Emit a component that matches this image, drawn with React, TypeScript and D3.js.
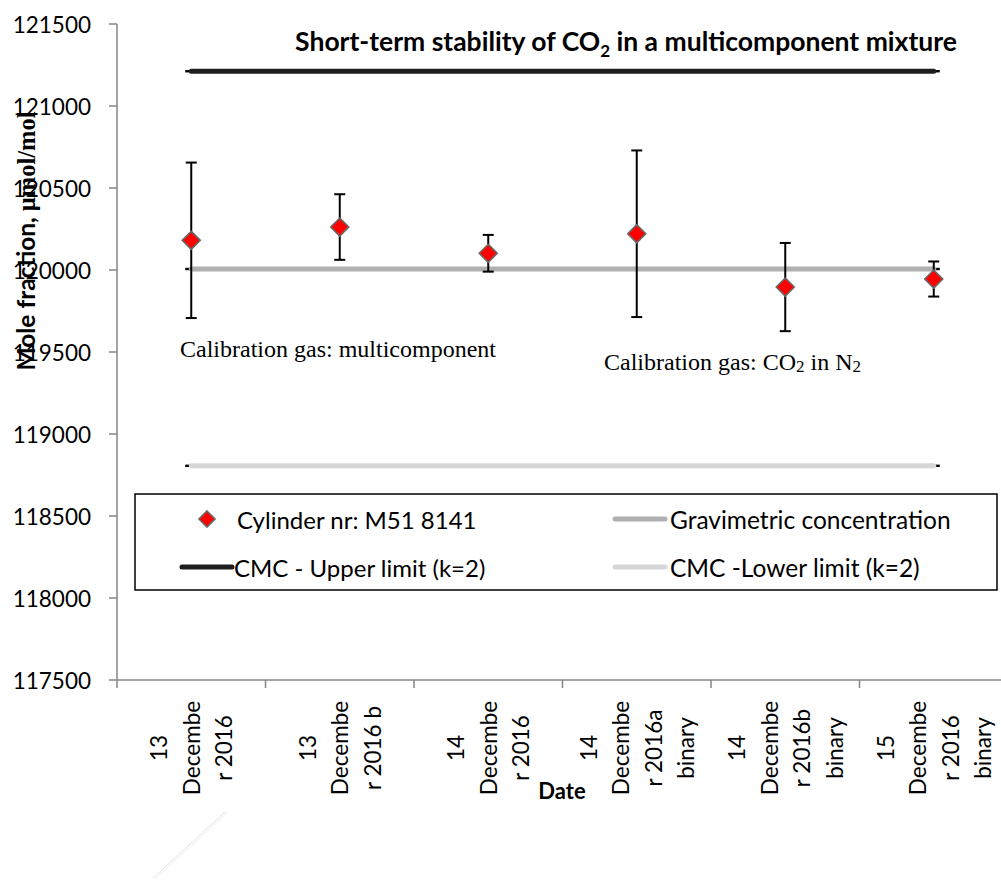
import * as d3 from 'd3'

// categories shown on the x axis (each entry = the wrapped lines of one label)
const categories = ['13 Dec 2016', '13 Dec 2016 b', '14 Dec 2016', '14 Dec 2016a binary', '14 Dec 2016b binary', '15 Dec 2016 binary']
const tickLines = [
  ['13', 'Decembe', 'r 2016'],
  ['13', 'Decembe', 'r 2016 b'],
  ['14', 'Decembe', 'r 2016'],
  ['14', 'Decembe', 'r 2016a', 'binary'],
  ['14', 'Decembe', 'r 2016b', 'binary'],
  ['15', 'Decembe', 'r 2016', 'binary'],
]
const measured = [120181, 120262, 120102, 120221, 119896, 119945]
const uncertainty = [474, 200, 112, 508, 269, 107]
const gravimetric = [120006, 120006, 120006, 120006, 120006, 120006]
const upperLimit = [121212, 121212, 121212, 121212, 121212, 121212]
const lowerLimit = [118806, 118806, 118806, 118806, 118806, 118806]
const yTicks = [117500, 118000, 118500, 119000, 119500, 120000, 120500, 121000, 121500]

const W = 1001
const H = 883
const sans = 'Lato, "Open Sans", sans-serif'
const serif = '"Liberation Serif", "Times New Roman", serif'
const axisColor = '#868686'

export default function App() {
  const x = d3.scaleBand().domain(categories).range([117, 1008])
  const y = d3.scaleLinear().domain([117500, 121500]).range([680, 24])
  const cx = (i: number) => (x(categories[i]) as number) + x.bandwidth() / 2

  const line = d3
    .line<number>()
    .x((_, i) => cx(i))
    .y((d) => y(d))

  const refLines = [
    { values: upperLimit, color: '#1e1e1e' },
    { values: gravimetric, color: '#b0b0b0' },
    { values: lowerLimit, color: '#d6d6d6' },
  ]

  const diamond = (px: number, py: number, r: number) =>
    `M${px},${py - r}L${px + r},${py}L${px},${py + r}L${px - r},${py}Z`

  const [x0, x1] = x.range()
  const boundaries = categories.map((c) => x(c) as number).concat([x1])

  return (
    <svg width={W} height={H} style={{ position: 'absolute', left: 0, top: 0 }}>
      <rect width={W} height={H} fill="#fff" />

      {/* title */}
      <text x={626} y={51} textAnchor="middle" fontFamily={sans} fontWeight="bold" fontSize={26.5} fill="#000">
        Short-term stability of CO
        <tspan fontSize={17} dy={6}>2</tspan>
        <tspan dy={-6}> in a multicomponent mixture</tspan>
      </text>

      {/* axes */}
      <line x1={x0} x2={x1} y1={y(117500)} y2={y(117500)} stroke={axisColor} strokeWidth={1.5} />
      <line x1={x0} x2={x0} y1={y(121500)} y2={y(117500)} stroke={axisColor} strokeWidth={1.5} />
      {yTicks.map((t) => (
        <g key={t}>
          <line x1={x0 - 8} x2={x0} y1={y(t)} y2={y(t)} stroke={axisColor} strokeWidth={1.5} />
          <text x={91} y={y(t)} dominantBaseline="central" textAnchor="end" fontFamily={sans} fontSize={22.5} fill="#000">
            {t}
          </text>
        </g>
      ))}
      {boundaries.map((b, i) => (
        <line key={i} x1={b} x2={b} y1={y(117500)} y2={y(117500) + 8} stroke={axisColor} strokeWidth={1.5} />
      ))}
      {tickLines.map((lines, i) => (
        <g key={i} transform={`translate(${cx(i)},748) rotate(-90)`}>
          {lines.map((t, j) => (
            <text
              key={j}
              x={0}
              y={(j - (lines.length - 1) / 2) * 32.5}
              textAnchor="middle"
              dominantBaseline="central"
              fontFamily={sans}
              fontSize={22.5}
              fill="#000"
            >
              {t}
            </text>
          ))}
        </g>
      ))}
      <text x={562} y={799} textAnchor="middle" fontFamily={sans} fontWeight="bold" fontSize={22} fill="#000">
        Date
      </text>

      {/* y axis title */}
      <text transform="translate(35,241) rotate(-90)" textAnchor="middle" fontWeight="bold" fontSize={24.5} fill="#000">
        <tspan fontFamily={sans}>Mole fraction, </tspan>
        <tspan fontFamily={serif}>µmol/mol</tspan>
      </text>

      {/* reference lines with dash markers */}
      {refLines.map((r, k) => (
        <g key={k}>
          {r.values.map((v, i) => (
            <rect key={i} x={cx(i) - 6} y={y(v) - 1.2} width={12} height={2.4} fill="#000" />
          ))}
          <path d={line(r.values) || ''} fill="none" stroke={r.color} strokeWidth={5} strokeLinecap="round" />
        </g>
      ))}

      {/* annotations */}
      <text x={180} y={357} fontFamily={serif} fontSize={24} fill="#000">
        Calibration gas: multicomponent
      </text>
      <text x={604} y={370} fontFamily={serif} fontSize={24} fill="#000">
        Calibration gas: CO
        <tspan fontSize={17} dy={2}>2</tspan>
        <tspan dy={-2}> in N</tspan>
        <tspan fontSize={17} dy={2}>2</tspan>
      </text>

      {/* error bars and points */}
      {measured.map((v, i) => {
        const px = cx(i)
        const top = y(v + uncertainty[i])
        const bot = y(v - uncertainty[i])
        return (
          <g key={i}>
            <line x1={px} x2={px} y1={top} y2={bot} stroke="#000" strokeWidth={2} />
            <line x1={px - 5.5} x2={px + 5.5} y1={top} y2={top} stroke="#000" strokeWidth={2} />
            <line x1={px - 5.5} x2={px + 5.5} y1={bot} y2={bot} stroke="#000" strokeWidth={2} />
            <path d={diamond(px, y(v), 9)} fill="#ff0000" stroke="#686868" strokeWidth={1.6} />
          </g>
        )
      })}

      {/* legend */}
      <rect x={135} y={494} width={862} height={96} fill="#fff" stroke="#000" strokeWidth={1.5} />
      <path d={diamond(207, 519, 8)} fill="#ff0000" stroke="#686868" strokeWidth={1.6} />
      <text x={237} y={519} dominantBaseline="central" fontFamily={sans} fontSize={24} fill="#000">
        Cylinder nr: M51 8141
      </text>
      <line x1={182} x2={232} y1={567} y2={567} stroke="#1e1e1e" strokeWidth={5} strokeLinecap="round" />
      <text x={234} y={567} dominantBaseline="central" fontFamily={sans} fontSize={24} fill="#000">
        CMC - Upper limit (k=2)
      </text>
      <line x1={615} x2={665} y1={519} y2={519} stroke="#b0b0b0" strokeWidth={5} strokeLinecap="round" />
      <text x={670} y={519} dominantBaseline="central" fontFamily={sans} fontSize={24.5} fill="#000">
        Gravimetric concentration
      </text>
      <line x1={615} x2={665} y1={567} y2={567} stroke="#d6d6d6" strokeWidth={5} strokeLinecap="round" />
      <text x={670} y={567} dominantBaseline="central" fontFamily={sans} fontSize={24.5} fill="#000">
        CMC -Lower limit (k=2)
      </text>

      {/* faint stray stroke at the bottom left */}
      <line x1={225} y1={812} x2={153} y2={878} stroke="#e4e4e4" strokeWidth={1} />
      <line x1={228} y1={812} x2={156} y2={878} stroke="#ececec" strokeWidth={1} />
    </svg>
  )
}
